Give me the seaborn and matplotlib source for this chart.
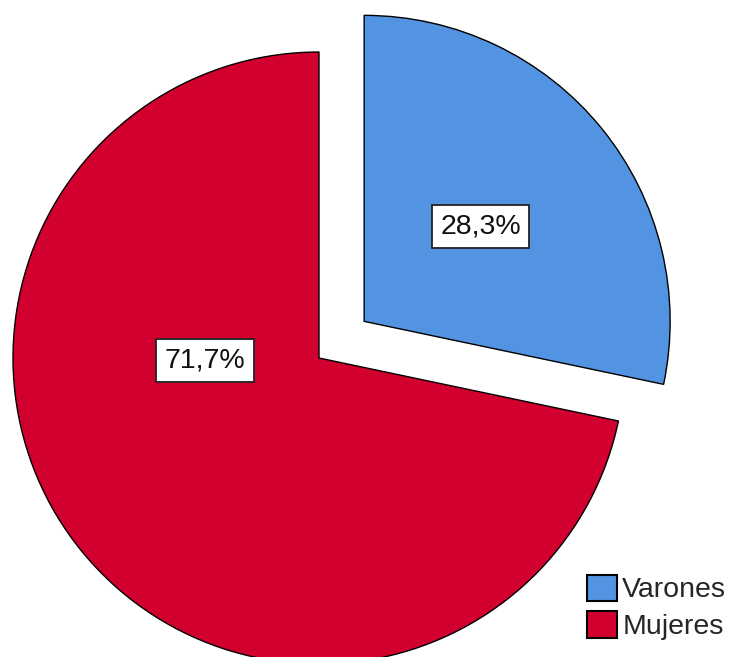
import matplotlib
matplotlib.use("Agg")
import matplotlib.pyplot as plt
import seaborn as sns

categories = ["Varones", "Mujeres"]
percentages = [28.3, 71.7]
colors = ["#5294E2", "#D2002E"]

sns.set_theme(style="white")
plt.rcParams['font.family'] = ['Liberation Sans', 'DejaVu Sans']

fig = plt.figure(figsize=(7.29, 6.57), dpi=100)
ax = fig.add_axes([0, 0, 1, 1])

def fmt(p):
    return f"{p:.1f}%".replace('.', ',')

wedges, texts, autotexts = ax.pie(
    percentages, colors=colors, startangle=90, counterclock=False,
    explode=[0.19, 0], radius=1, autopct=fmt, pctdistance=0.49,
    wedgeprops=dict(edgecolor='black', linewidth=1.0),
    textprops=dict(fontsize=20.5, color='#111111'))

for t in autotexts:
    t.set_bbox(dict(facecolor='white', edgecolor='#222222', linewidth=1.3,
                    boxstyle='square,pad=0.3'))
# SPSS places the large-slice label off its mid-angle
autotexts[1].set_position((-0.373, -0.007))

ax.set_aspect('equal')
ax.set_xlim(-319 / 306, (729 - 319) / 306)
ax.set_ylim(-(657 - 358) / 306, 358 / 306)
ax.axis('off')

leg = ax.legend(wedges, categories, loc='lower right',
                bbox_to_anchor=(1.012, 0.008), bbox_transform=fig.transFigure,
                frameon=False, fontsize=20.5, handlelength=1.05, handleheight=1.05,
                handletextpad=0.2, labelspacing=0.28, borderaxespad=0.0)
for h in leg.legend_handles:
    h.set_edgecolor('black')
    h.set_linewidth(1.5)

fig.savefig("out.png", dpi=100)
